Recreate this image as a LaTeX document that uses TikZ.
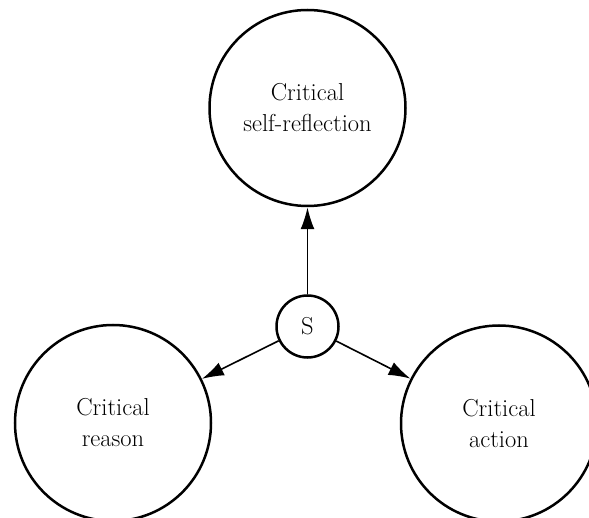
\documentclass[tikz,border=0pt]{standalone}
\usetikzlibrary{arrows.meta}
\begin{document}
\begin{tikzpicture}[x=1pt,y=-1pt,
  bigcircle/.style={circle, draw, line width=2.5pt, minimum size=196pt, inner sep=0pt,
    align=center, font=\fontsize{24.5}{31}\selectfont},
  smallcircle/.style={circle, draw, line width=2.5pt, minimum size=62pt, inner sep=0pt,
    font=\fontsize{24.5}{28}\selectfont},
  link/.style={line width=1.6pt, -{Latex[length=22pt,width=14pt]}}]
  \useasboundingbox (0,0) rectangle (589,518);
  \node[bigcircle] (reflect) at (307.5,108) {Critical\\self-reflection};
  \node[bigcircle] (reason) at (113,423) {Critical\\reason};
  \node[bigcircle] (action) at (499,423.5) {Critical\\action};
  \node[smallcircle] (s) at (307.5,326.5) {S};
  \draw[link] (s) -- (reflect);
  \draw[link] (s) -- (reason);
  \draw[link] (s) -- (action);
\end{tikzpicture}
\end{document}
